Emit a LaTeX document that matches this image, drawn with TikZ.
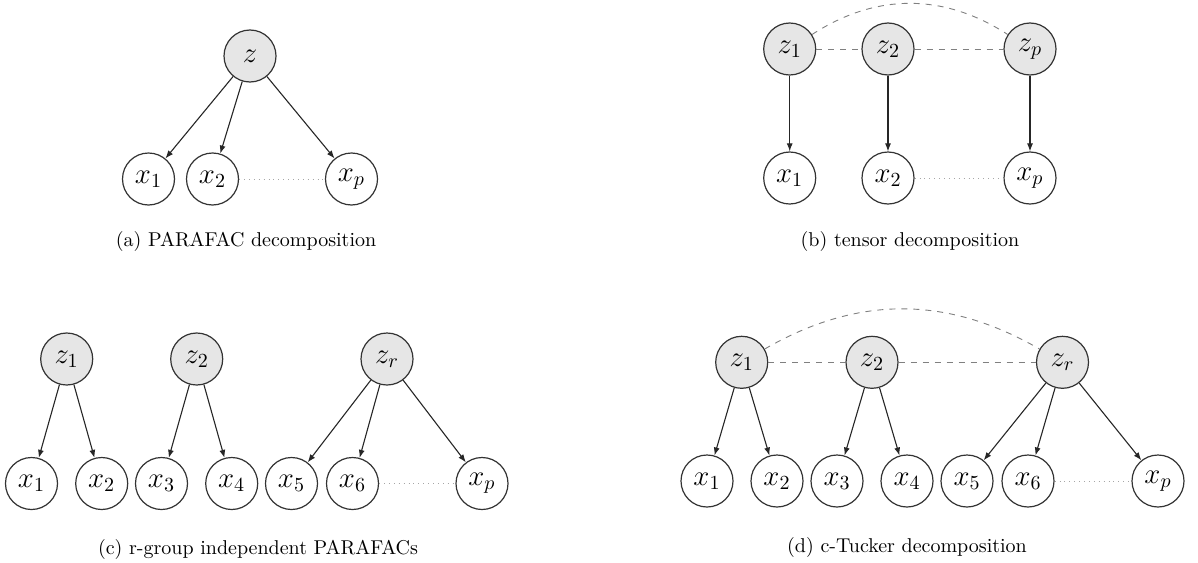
\documentclass[tikz,border=0pt]{standalone}
\usetikzlibrary{arrows.meta}
\definecolor{latfill}{HTML}{E6E6E6}
\definecolor{edgec}{HTML}{333333}
\tikzset{
  obs/.style={circle,draw=edgec,line width=0.6pt,fill=white,minimum size=26pt,inner sep=0pt,font=\Large},
  lat/.style={obs,fill=latfill},
  arr/.style={-{Latex[length=4pt,width=3pt]},line width=0.55pt,black!85},
  dep/.style={dashed,gray,line width=0.45pt},
  gap/.style={dotted,gray!70,line width=0.45pt},
  captext/.style={font=\normalsize}
}
\begin{document}
\begin{tikzpicture}[x=0.5pt,y=-0.5pt]
\useasboundingbox (0,0) rectangle (1198,562);
% (a)
\node[lat] (az) at (250,56) {$z$};
\node[obs] (ax1) at (148.5,179) {$x_1$};
\node[obs] (ax2) at (212.5,179) {$x_2$};
\node[obs] (axp) at (351.5,179) {$x_p$};
\draw[arr] (az) -- (ax1);
\draw[arr] (az) -- (ax2);
\draw[arr] (az) -- (axp);
\draw[gap] (ax2) -- (axp);
\node[captext] (acap) at (246,241) {(a) PARAFAC decomposition};
% (b)
\node[lat] (bz1) at (789.7,49) {$z_1$};
\node[lat] (bz2) at (888,49) {$z_2$};
\node[lat] (bzp) at (1030,49) {$z_p$};
\node[obs] (bx1) at (789.7,178) {$x_1$};
\node[obs] (bx2) at (888,178) {$x_2$};
\node[obs] (bxp) at (1030,178) {$x_p$};
\draw[arr] (bz1) -- (bx1);
\draw[arr] (bz2) -- (bx2);
\draw[arr] (bzp) -- (bxp);
\draw[dep] (bz1) -- (bz2);
\draw[dep] (bz2) -- (bzp);
\draw[dep] (bz1) to[out=33,in=147] (bzp);
\draw[gap] (bx2) -- (bxp);
\node[captext] (bcap) at (910,241) {(b) tensor decomposition};
% (c)
\node[lat] (cz1) at (66.7,359) {$z_1$};
\node[lat] (cz2) at (196.7,359) {$z_2$};
\node[lat] (czr) at (387,359) {$z_r$};
\node[obs] (cx1) at (31.5,483.5) {$x_1$};
\node[obs] (cx2) at (101.7,483.5) {$x_2$};
\node[obs] (cx3) at (161.5,483.5) {$x_3$};
\node[obs] (cx4) at (231.7,483.5) {$x_4$};
\node[obs] (cx5) at (291.5,483.5) {$x_5$};
\node[obs] (cx6) at (352.5,483.5) {$x_6$};
\node[obs] (cxp) at (482,483.5) {$x_p$};
\draw[arr] (cz1) -- (cx1);
\draw[arr] (cz1) -- (cx2);
\draw[arr] (cz2) -- (cx3);
\draw[arr] (cz2) -- (cx4);
\draw[arr] (czr) -- (cx5);
\draw[arr] (czr) -- (cx6);
\draw[arr] (czr) -- (cxp);
\draw[gap] (cx6) -- (cxp);
\node[captext] (ccap) at (258,549) {(c) r-group independent PARAFACs};
% (d)
\node[lat] (dz1) at (741.7,362.3) {$z_1$};
\node[lat] (dz2) at (872,362.3) {$z_2$};
\node[lat] (dzr) at (1062.5,362.3) {$z_r$};
\node[obs] (dx1) at (707,481) {$x_1$};
\node[obs] (dx2) at (777,481) {$x_2$};
\node[obs] (dx3) at (837,481) {$x_3$};
\node[obs] (dx4) at (907,481) {$x_4$};
\node[obs] (dx5) at (967,481) {$x_5$};
\node[obs] (dx6) at (1028,481) {$x_6$};
\node[obs] (dxp) at (1158,481) {$x_p$};
\draw[arr] (dz1) -- (dx1);
\draw[arr] (dz1) -- (dx2);
\draw[arr] (dz2) -- (dx3);
\draw[arr] (dz2) -- (dx4);
\draw[arr] (dzr) -- (dx5);
\draw[arr] (dzr) -- (dx6);
\draw[arr] (dzr) -- (dxp);
\draw[dep] (dz1) -- (dz2);
\draw[dep] (dz2) -- (dzr);
\draw[dep] (dz1) to[out=30,in=150] (dzr);
\draw[gap] (dx6) -- (dxp);
\node[captext] (dcap) at (907,547) {(d) c-Tucker decomposition};
\end{tikzpicture}
\end{document}
